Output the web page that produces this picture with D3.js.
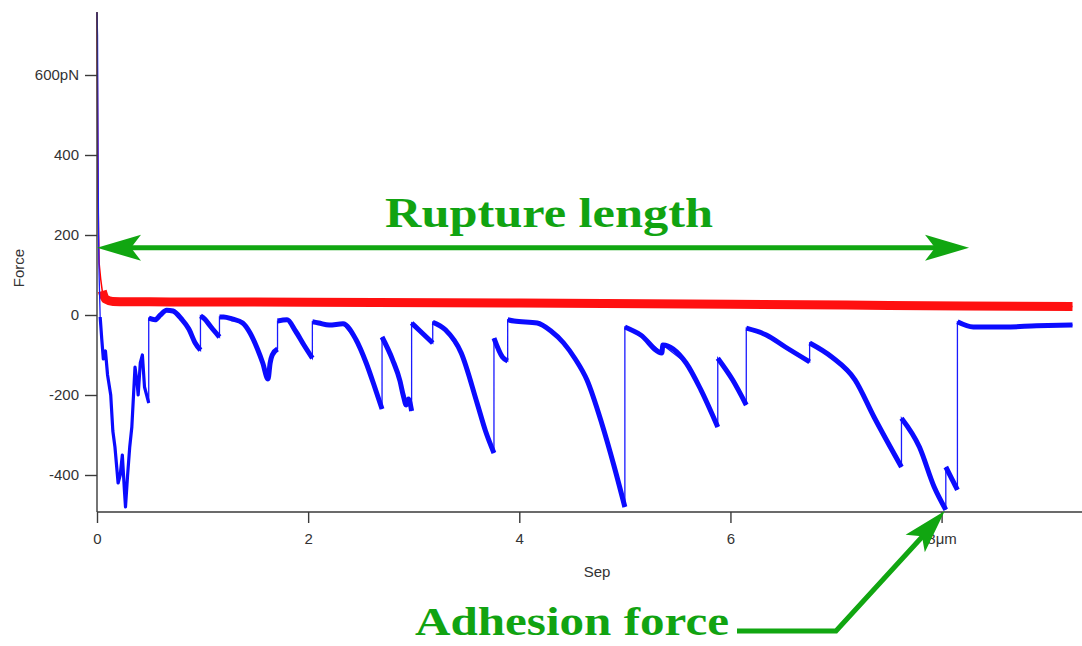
<!DOCTYPE html>
<html>
<head>
<meta charset="utf-8">
<script src="https://cdn.jsdelivr.net/npm/d3@7"></script>
<style>
  body { margin: 0; background: #fff; }
  .axis text { font-family: "Liberation Sans", Arial, sans-serif; font-size: 15px; fill: #333; }
  .axis path, .axis line { stroke: #3a3a3a; stroke-width: 1.4; }
  .note { font-family: "Liberation Serif", "Times New Roman", serif; font-weight: bold; fill: #11a311; }
</style>
</head>
<body>
<div id="chart"></div>
<script>
// tick values / labels
var yTicks = [-400, -200, 0, 200, 400, 600];
var yLabels = ["-400", "-200", "0", "200", "400", "600pN"];
var xTicks = [0, 2, 4, 6, 8];
var xLabels = ["0", "2", "4", "6", "8\u03bcm"];

// approach trace (red): [sep um, force pN]
var approach = [
  [0, 757], [0.003, 600], [0.006, 460], [0.01, 290], [0.015, 200], [0.02, 130],
  [0.035, 90], [0.05, 60], [0.08, 40], [0.15, 34], [0.5, 33], [2, 32],
  [4, 30], [6, 27], [7.5, 24], [9.24, 21]
];

// retract trace (blue): repeated sep = rupture jump
var retract = [
  [0, 757], [0.005, 700], [0.01, 400], [0.015, 200], [0.02, 100], [0.03, -5],
  [0.045, -60], [0.06, -110], [0.08, -90], [0.1, -150], [0.13, -200], [0.15, -290],
  [0.17, -330], [0.2, -420], [0.22, -400], [0.24, -350], [0.26, -440], [0.27, -480],
  [0.29, -400], [0.31, -330], [0.33, -280], [0.35, -180], [0.36, -130], [0.38, -170],
  [0.39, -200], [0.41, -120], [0.43, -100], [0.45, -180], [0.49, -220],
  [0.49, -8], [0.55, -12], [0.6, 0], [0.66, 12], [0.72, 10], [0.8, -10], [0.87, -35],
  [0.93, -70], [0.98, -88],
  [0.98, -2], [1.02, -10], [1.08, -30], [1.16, -55],
  [1.16, -5], [1.2, -5], [1.28, -10], [1.38, -20], [1.45, -45], [1.52, -85],
  [1.57, -120], [1.62, -160], [1.64, -120], [1.66, -100], [1.71, -85],
  [1.71, -15], [1.8, -12], [1.88, -40], [1.96, -75], [2.04, -108],
  [2.04, -17], [2.1, -20], [2.2, -25], [2.33, -22], [2.45, -60], [2.55, -120],
  [2.63, -180], [2.70, -235],
  [2.70, -55], [2.8, -112], [2.87, -165], [2.9, -200], [2.93, -225], [2.95, -210],
  [2.98, -240],
  [2.98, -20], [3.06, -40], [3.18, -70],
  [3.18, -18], [3.3, -37], [3.45, -95], [3.6, -220], [3.68, -290], [3.76, -345],
  [3.76, -58], [3.84, -105], [3.89, -115],
  [3.89, -12], [3.95, -15], [4.17, -20], [4.3, -40], [4.42, -70], [4.53, -110],
  [4.64, -162], [4.78, -270], [4.9, -380], [5.0, -480],
  [5.0, -30], [5.15, -50], [5.35, -95], [5.36, -75], [5.58, -120], [5.72, -187],
  [5.88, -280],
  [5.88, -108], [6.02, -162], [6.15, -225],
  [6.15, -33], [6.34, -50], [6.52, -80], [6.75, -117],
  [6.75, -70], [6.96, -105], [7.18, -162], [7.36, -255], [7.62, -380],
  [7.62, -258], [7.79, -330], [7.93, -430], [8.04, -487],
  [8.04, -380], [8.15, -437],
  [8.15, -17], [8.3, -30], [8.6, -30], [8.9, -27], [9.24, -25]
];

var width = 1082, height = 646;

var x = d3.scaleLinear().domain([0, 9.33]).range([97, 1082]);
var y = d3.scaleLinear().domain([-492.5, 757.5]).range([512, 12]);

var svg = d3.select("#chart").append("svg")
    .attr("width", width)
    .attr("height", height);

// split a trace into pieces at the vertical jumps
function pieces(data) {
  var out = [], cur = [data[0]];
  for (var i = 1; i < data.length; i++) {
    if (data[i][0] === data[i - 1][0]) { out.push(cur); cur = []; }
    cur.push(data[i]);
  }
  out.push(cur);
  return out;
}

var thin = d3.line()
    .x(function(d) { return x(d[0]); })
    .y(function(d) { return y(d[1]); });

var smooth = d3.line()
    .curve(d3.curveMonotoneX)
    .x(function(d) { return x(d[0]); })
    .y(function(d) { return y(d[1]); });

// red approach curve
svg.append("path").datum(approach)
    .attr("fill", "none").attr("stroke", "#ff0000").attr("stroke-width", 1.5)
    .attr("d", thin);
svg.append("path").datum(approach.filter(function(d) { return d[0] >= 0.05; }))
    .attr("fill", "none").attr("stroke", "#ff1010").attr("stroke-width", 9)
    .attr("stroke-linejoin", "round")
    .attr("d", smooth);

// blue retract curve
svg.append("path").datum(retract)
    .attr("fill", "none").attr("stroke", "#1a1aff").attr("stroke-width", 1.3)
    .attr("d", thin);
svg.selectAll(".seg")
    .data(pieces(retract).map(function(p) {
      return p.filter(function(d) { return d[0] >= 0.03; });
    }))
  .enter().append("path")
    .attr("class", "seg")
    .attr("fill", "none").attr("stroke", "#0b0bff")
    .attr("stroke-width", function(p) { return p[0][0] < 0.4 ? 3.2 : 5; })
    .attr("stroke-linejoin", "round")
    .attr("d", function(p) { return p[0][0] < 0.4 ? thin(p) : smooth(p); });

// axes
var yAxis = d3.axisLeft(y)
    .tickValues(yTicks)
    .tickSize(12).tickPadding(6)
    .tickFormat(function(d, i) { return yLabels[i]; });

var xAxis = d3.axisBottom(x)
    .tickValues(xTicks)
    .tickSize(11).tickPadding(10)
    .tickFormat(function(d, i) { return xLabels[i]; });

svg.append("g").attr("class", "axis")
    .attr("transform", "translate(" + x(0) + ",0)")
    .call(yAxis)
    .call(function(g) { g.select(".domain").attr("d", "M0," + y.range()[1] + "V" + y.range()[0]); });

svg.append("g").attr("class", "axis")
    .attr("transform", "translate(0," + y.range()[0] + ")")
    .call(xAxis)
    .call(function(g) { g.select(".domain").attr("d", "M" + x.range()[0] + ",0H" + x.range()[1]); });

svg.append("text")
    .attr("transform", "translate(24,268) rotate(-90)")
    .attr("text-anchor", "middle")
    .style("font-family", "Liberation Sans, Arial, sans-serif")
    .style("font-size", "15px").style("fill", "#333")
    .text("Force");

svg.append("text")
    .attr("x", 597).attr("y", 577)
    .attr("text-anchor", "middle")
    .style("font-family", "Liberation Sans, Arial, sans-serif")
    .style("font-size", "15px").style("fill", "#333")
    .text("Sep");

// annotations
var green = "#11a611";

function arrowHead(tip, from) {
  var dx = tip[0] - from[0], dy = tip[1] - from[1];
  var len = Math.sqrt(dx * dx + dy * dy);
  var ux = dx / len, uy = dy / len, px = -uy, py = ux;
  var L = 44, W = 13, N = 34;
  return [
    tip,
    [tip[0] - ux * L + px * W, tip[1] - uy * L + py * W],
    [tip[0] - ux * N, tip[1] - uy * N],
    [tip[0] - ux * L - px * W, tip[1] - uy * L - py * W]
  ];
}

var rupY = y(168);
var rupA = [x(0), rupY], rupB = [x(8.26), rupY];
svg.append("line")
    .attr("x1", rupA[0] + 30).attr("y1", rupY)
    .attr("x2", rupB[0] - 30).attr("y2", rupY)
    .attr("stroke", green).attr("stroke-width", 5);
svg.append("polygon").attr("points", arrowHead(rupB, rupA).join(" ")).attr("fill", green);
svg.append("polygon").attr("points", arrowHead(rupA, rupB).join(" ")).attr("fill", green);

svg.append("text").attr("class", "note")
    .attr("x", 385).attr("y", 227)
    .attr("textLength", 328).attr("lengthAdjust", "spacingAndGlyphs")
    .style("font-size", "43px")
    .text("Rupture length");

var adhTip = [x(8.03), y(-490)];
var elbow = [836, 631];
svg.append("polyline")
    .attr("points", [[737, 631], elbow, [adhTip[0] - 20, adhTip[1] + 23]].join(" "))
    .attr("fill", "none").attr("stroke", green).attr("stroke-width", 5)
    .attr("stroke-linejoin", "miter");
svg.append("polygon").attr("points", arrowHead(adhTip, elbow).join(" ")).attr("fill", green);

svg.append("text").attr("class", "note")
    .attr("x", 415).attr("y", 635)
    .attr("textLength", 314).attr("lengthAdjust", "spacingAndGlyphs")
    .style("font-size", "39px")
    .text("Adhesion force");
</script>
</body>
</html>
